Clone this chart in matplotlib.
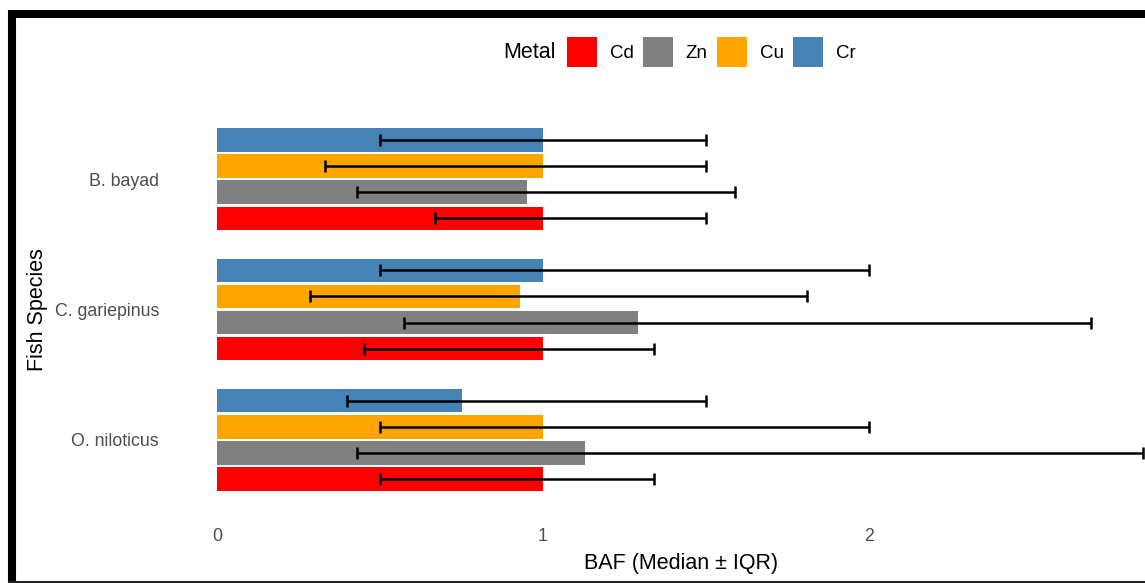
import matplotlib

matplotlib.use("Agg")
import matplotlib.pyplot as plt
import numpy as np
from matplotlib.lines import Line2D
from matplotlib.patches import Patch

plt.rcParams["font.family"] = ["Liberation Sans", "DejaVu Sans"]

species = ["O. niloticus", "C. gariepinus", "B. bayad"]
metals = ["Cd", "Zn", "Cu", "Cr"]
colors = ["#ff0000", "#808080", "#ffa500", "#4682b4"]

# median / lower quartile / upper quartile, rows follow `species`
median = {
    "Cd": [1.00, 1.00, 1.00],
    "Zn": [1.13, 1.29, 0.95],
    "Cu": [1.00, 0.93, 1.00],
    "Cr": [0.75, 1.00, 1.00],
}
lower = {
    "Cd": [0.50, 0.45, 0.67],
    "Zn": [0.43, 0.575, 0.43],
    "Cu": [0.50, 0.285, 0.33],
    "Cr": [0.40, 0.50, 0.50],
}
upper = {
    "Cd": [1.34, 1.34, 1.50],
    "Zn": [2.84, 2.68, 1.59],
    "Cu": [2.00, 1.81, 1.50],
    "Cr": [1.50, 2.00, 1.50],
}

W, H = 1145, 583
fig = plt.figure(figsize=(W / 100, H / 100), dpi=100)
# the original panel runs past the right edge of the (cropped) image
ax = fig.add_axes([170 / W, 1 - 518 / H, (1192 - 170) / W, (518 - 101) / H])

y = np.arange(1, len(species) + 1)
offsets = [-0.3, -0.1, 0.1, 0.3]
for metal, col, off in zip(metals, colors, offsets):
    med = np.array(median[metal])
    lo = np.array(lower[metal])
    hi = np.array(upper[metal])
    ax.barh(y + off, med, height=0.18, color=col, edgecolor="none")
    ax.errorbar(med, y + off, xerr=[med - lo, hi - med], fmt="none",
                ecolor="black", elinewidth=1.8, capsize=4.5, capthick=1.8)

ax.set_xlim(-0.144, 2.99)
ax.set_ylim(0.4, 3.6)
ax.set_xticks([0, 1, 2])
ax.set_yticks(y)
ax.set_yticklabels(species)
ax.tick_params(length=0, labelsize=12.8, labelcolor="#4d4d4d")
ax.tick_params(axis="y", pad=8)
ax.tick_params(axis="x", pad=7)
for s in ax.spines.values():
    s.set_visible(False)
ax.set_xlabel("BAF (Median ± IQR)", fontsize=15.5, labelpad=6)
ax.set_ylabel("Fish Species", fontsize=15.5, labelpad=5)

handles = [Patch(facecolor=c, edgecolor="none") for c in colors]
fig.legend(handles, metals, loc="center left", bbox_to_anchor=(567 / W, 1 - 52 / H),
           ncol=4, frameon=False, fontsize=13.5, handlelength=1.6, handleheight=2.085,
           handletextpad=0.68, columnspacing=0.5, borderaxespad=0, borderpad=0)
fig.text(503 / W, 1 - 52 / H, "Metal", fontsize=15.5, va="center", ha="left")

# frame of the original (cropped on the right)
fig.add_artist(Line2D([12 / W, 12 / W], [0, 1 - 10 / H], transform=fig.transFigure,
                      color="black", linewidth=5.8, solid_capstyle="butt"))
fig.add_artist(Line2D([8 / W, 1], [1 - 14 / H, 1 - 14 / H], transform=fig.transFigure,
                      color="black", linewidth=5.8, solid_capstyle="butt"))
fig.add_artist(Line2D([8 / W, 1], [1.5 / H, 1.5 / H], transform=fig.transFigure,
                      color="#222222", linewidth=1.5, solid_capstyle="butt"))

fig.savefig("out.png", dpi=100)
